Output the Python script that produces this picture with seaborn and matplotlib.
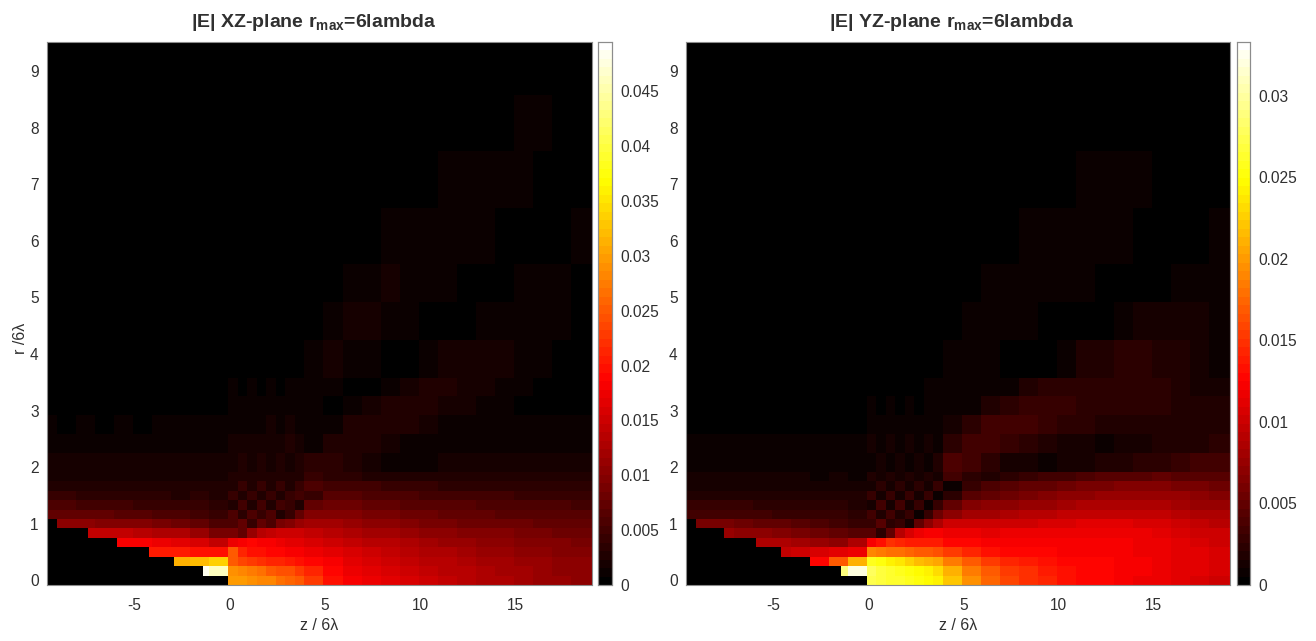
import numpy as np
import pandas as pd
import matplotlib
matplotlib.use("Agg")
import matplotlib.pyplot as plt
from matplotlib.colors import LinearSegmentedColormap
import seaborn as sns

sns.set_theme(style="white")
plt.rcParams['font.family'] = ['Liberation Sans', 'DejaVu Sans']
plt.rcParams['mathtext.fontset'] = 'custom'
plt.rcParams['mathtext.bf'] = 'Liberation Sans:bold'
plt.rcParams['mathtext.rm'] = 'Liberation Sans'

W, H = 1316, 641
TEXT = '#303030'
EDGE = '#8c8c8c'
hot_map = LinearSegmentedColormap.from_list(
    'hot_black', [(0, '#000000'), (0.375, '#ff0000'), (0.75, '#ffff00'), (1, '#ffffff')], N=64)

# block widths on the underlying grid (6 cells per lambda unit)
col_blocks = [3] + [6] * 9 + [3] * 8 + [6] * 14 + [7]
row_blocks = [1] * 12 + [2] * 5 + [4] * 3 + [6] * 4

x_ticks = [-5, 0, 5, 10, 15]
y_ticks = list(range(10))
xz_cbar_ticks = [0, 0.005, 0.01, 0.015, 0.02, 0.025, 0.03, 0.035, 0.04, 0.045]
yz_cbar_ticks = [0, 0.005, 0.01, 0.015, 0.02, 0.025, 0.03]
xz_vmax = 0.0495
yz_vmax = 0.0333

# first lit z of the lowest rows (the staircase)
xz_stairs = [-0.08, -1.42, -2.89, -4.3, -5.98, -7.4, -9.08]
yz_stairs = [-0.08, -1.42, -3.1, -4.5, -5.98, -7.6, -9.03]

# |E| values in units of 1e-4, bottom row first
xz_values = [
 [0,0,0,0,0,0,0,0,0,0, 300,295,290,285,280,270,260,250, 225,195,180,172,165,155,148,142,135,130,125,120,115,110,105],
 [0,0,0,0,0,0,0,0,480,460, 290,280,275,265,255,245,240,230, 210,190,175,170,160,150,145,138,132,127,122,117,112,108,104],
 [0,0,0,0,0,0,0,310,320,340, 250,235,225,220,215,210,205,200, 190,180,165,160,152,145,138,132,126,122,118,113,109,105,101],
 [0,0,0,0,0,205,205,205,200,195, 250,215,200,195,190,190,185,185, 175,165,155,150,145,138,130,125,120,116,112,108,104,100,97],
 [0,0,0,0,185,180,175,170,160,140, 175,185,190,185,180,175,170,170, 160,150,142,138,132,125,120,115,112,108,104,100,97,94,91],
 [0,0,140,140,140,135,130,125,110,90, 90,75,110,135,145,150,150,150, 145,135,128,122,118,112,108,104,100,97,94,91,88,85,82],
 [105,105,105,100,100,95,90,85,70,60, 55,75,45,70,55,90,100,110, 120,118,113,108,102,97,92,88,85,82,80,78,76,73,70],
 [70,70,70,70,68,65,60,55,50,40, 60,35,60,40,55,30,45,75, 100,98,94,90,86,82,78,75,72,70,68,67,65,63,62],
 [60,55,50,50,50,45,45,40,40,35, 25,50,30,50,30,50,40,25, 75,80,78,75,72,69,66,64,62,60,59,58,57,55,54],
 [40,40,38,38,35,35,35,30,35,30, 45,25,45,25,45,30,45,50, 40,62,62,60,58,55,52,50,49,48,47,46,46,45,44],
 [30,30,28,28,28,28,30,28,25,28, 25,42,25,40,25,40,28,45, 55,50,52,50,46,43,40,38,37,36,36,36,36,35,35],
 [22,22,22,22,22,22,22,22,22,22, 30,25,30,25,30,25,30,28, 40,35,32,30,27,27,28,29,30,30,30,29,28,27,26],
 [16,16,16,16,16,16,16,16,16,16, 20,26,20,26,20,28,20,30, 35,32,25,18,15,15,15,16,17,18,19,19,19,18,18],
 [11,11,11,11,11,11,12,11,12,11, 20,16,22,16,22,16,24,18, 15,28,30,28,22,15,12,11,11,11,12,13,13,13,13],
 [8,7,8,7,8,7,9,8,9,8, 14,11,15,12,16,12,16,12, 12,14,25,30,30,26,18,13,10,9,9,9,9,9,9],
 [5,5,5,5,6,5,6,6,7,6, 10,8,11,9,12,9,12,10, 8,7,8,20,28,30,27,22,16,12,8,7,7,7,7],
 [4,4,4,4,4,4,5,5,6,5, 8,7,8,7,9,7,9,9, 12,8,6,7,10,18,24,25,22,18,13,8,6,6,6],
 [3,3,3,3,4,3,4,4,5,4, 6,5,6,5,7,5,7,7, 10,16,12,8,6,6,10,18,20,20,18,13,8,5,5],
 [2,2,2,2,3,2,3,3,3,3, 4,4,5,4,5,4,5,5, 6,12,18,18,12,9,6,5,6,10,14,15,12,8,5],
 [2,2,2,2,2,2,2,2,3,2, 3,3,3,3,4,3,4,4, 5,6,8,14,18,15,11,8,6,5,6,8,10,10,7],
 [1,1,1,1,2,1,2,2,2,2, 2,2,2,2,2,2,3,3, 3,4,5,6,8,12,14,14,11,8,7,6,6,7,8],
 [1,1,1,1,1,1,1,1,1,1, 2,2,2,2,2,2,2,2, 2,3,3,4,4,5,6,8,10,10,9,8,6,6,7],
 [1,1,1,1,1,1,1,1,1,1, 1,1,1,1,1,1,2,2, 2,2,2,3,3,3,4,4,5,6,7,8,8,7,6],
 [1,1,1,1,1,1,1,1,1,1, 1,1,1,1,1,1,1,1, 1,1,2,2,2,2,2,3,3,3,4,5,5,6,6],
]
yz_values = [
 [0,0,0,0,0,0,0,0,0,0, 275,270,265,262,258,252,248,240, 220,195,175,160,150,142,135,130,125,122,118,115,112,108,104],
 [0,0,0,0,0,0,0,0,290,320, 280,270,262,258,252,245,240,230, 210,185,170,155,147,140,134,130,126,123,120,116,113,110,106],
 [0,0,0,0,0,0,0,125,170,210, 255,250,242,235,225,215,210,205, 185,170,155,145,140,135,130,127,125,122,120,117,114,110,106],
 [0,0,0,0,0,95,100,105,110,115, 190,185,180,178,172,170,168,165, 155,145,135,130,128,126,124,123,122,120,118,116,113,110,105],
 [0,0,0,0,85,85,80,75,70,85, 120,135,150,145,140,140,140,140, 130,125,122,122,122,122,122,122,121,120,118,115,112,108,103],
 [0,0,75,70,68,65,60,55,50,45, 45,25,50,90,105,115,120,120, 118,115,114,115,116,117,118,118,118,117,115,112,108,104,99],
 [60,60,58,55,52,48,45,40,35,30, 30,45,22,30,15,50,70,85, 100,100,100,102,104,106,108,110,110,110,108,105,102,98,93],
 [35,35,35,35,33,30,30,28,28,22, 35,18,35,18,30,8,30,55, 70,80,82,85,90,93,95,97,98,98,97,95,92,88,84],
 [28,28,27,27,26,25,25,22,22,20, 15,32,15,32,15,30,8,28, 50,65,68,70,74,78,82,84,86,87,86,84,82,78,75],
 [20,20,20,20,20,20,20,18,18,18, 30,12,30,12,30,15,30,8, 25,45,52,55,60,65,69,72,75,76,76,75,73,70,67],
 [15,15,15,15,15,15,14,14,15,15, 12,25,12,25,12,25,15,30, 8,30,38,42,47,52,56,60,62,64,64,63,62,60,57],
 [12,12,12,11,11,11,12,10,12,10, 18,12,18,12,18,12,20,15, 33,22,17,22,28,32,36,40,43,45,46,47,46,44,42],
 [8,8,8,8,8,8,8,8,9,8, 10,14,10,14,10,15,10,18, 40,32,22,14,11,10,12,15,18,20,23,26,28,32,33],
 [6,6,6,6,6,6,6,6,7,6, 11,8,12,8,12,8,14,10, 25,35,35,30,24,18,14,11,10,12,14,16,18,20,22],
 [4,4,4,4,5,4,5,5,5,5, 8,6,8,6,9,6,10,8, 12,25,32,33,32,30,26,22,18,18,20,20,20,20,20],
 [3,3,3,3,4,3,4,4,4,4, 6,5,6,5,7,5,7,6, 7,9,18,26,30,30,28,26,24,24,24,22,20,18,16],
 [3,3,3,3,3,3,3,3,3,3, 4,4,5,4,5,4,6,6, 8,8,6,8,16,22,26,26,26,25,24,22,18,15,12],
 [2,2,2,2,2,2,2,2,3,2, 3,3,4,3,4,3,4,4, 10,10,8,5,4,5,10,16,20,22,22,20,16,12,8],
 [1,1,1,1,1,1,2,2,2,2, 2,2,3,2,3,2,3,3, 5,8,10,10,7,5,3,3,4,7,12,15,15,12,8],
 [1,1,1,1,1,1,1,1,1,1, 2,2,2,2,2,2,2,2, 4,4,6,8,10,10,8,6,4,3,3,4,7,10,10],
 [1,1,1,1,1,1,1,1,1,1, 1,1,1,1,2,1,2,2, 2,3,3,4,6,8,9,9,8,6,4,3,3,4,6],
 [1,1,1,1,1,1,1,1,1,1, 1,1,1,1,1,1,1,1, 2,2,2,2,3,4,5,6,6,7,6,5,4,3,3],
 [0,0,0,0,0,0,0,0,1,1, 1,1,1,1,1,1,1,1, 1,1,2,2,2,2,3,3,4,4,5,5,5,4,3],
 [0,0,0,0,0,0,0,0,0,0, 1,1,1,1,1,1,1,1, 1,1,1,1,1,1,2,2,2,2,3,3,3,4,4],
]


def expand(values, stairs):
    arr = np.asarray(values, dtype=float) * 1e-4
    arr = np.repeat(np.repeat(arr, row_blocks, axis=0), col_blocks, axis=1)
    centres = -9.5 + np.arange(arr.shape[1]) / 6
    for row, start in enumerate(stairs):
        arr[row, centres < start] = 0
    return pd.DataFrame(arr)


def to_col(z):
    return np.asarray(z, dtype=float) * 6 + 57.5


def to_row(r):
    return np.asarray(r, dtype=float) * 6 + 0.5


def rect(x0, x1):
    return [x0 / W, 1 - 585 / H, (x1 - x0) / W, 543 / H]


def panel(values, stairs, vmax, cticks, title, title_x, ax_px, cb_px, ylabel):
    ax = fig.add_axes(rect(*ax_px))
    cax = fig.add_axes(rect(*cb_px))
    sns.heatmap(expand(values, stairs), ax=ax, cbar_ax=cax, cmap=hot_map, vmin=0, vmax=vmax,
                xticklabels=False, yticklabels=False, rasterized=True)
    ax.set_xlim(0, 171.5)
    ax.set_ylim(0, 57.6)
    ax.set_xticks(to_col(x_ticks))
    ax.set_xticklabels([str(v) for v in x_ticks])
    ax.set_yticks(to_row(y_ticks))
    ax.set_yticklabels([str(v) for v in y_ticks])
    ax.tick_params(axis='both', direction='in', length=3, width=0.6, color='#3a3a3a',
                   labelsize=11.2, labelcolor=TEXT, bottom=True, left=True)
    ax.tick_params(axis='x', pad=9)
    ax.tick_params(axis='y', pad=6)
    ax.set_xlabel('z / 6\u03bb', fontsize=11.5, color=TEXT, labelpad=4)
    if ylabel:
        ax.set_ylabel('r /6\u03bb', fontsize=11.5, color=TEXT)
        ax.yaxis.set_label_coords(-0.034, (585 - 338) / 543)
    ax.set_title(title, x=title_x, fontsize=14, fontweight='bold', color=TEXT, pad=11)
    for s in ax.spines.values():
        s.set_visible(True)
        s.set_color(EDGE)
        s.set_linewidth(0.8)
    cax.set_yticks(cticks)
    cax.set_yticklabels([f'{v:g}' for v in cticks])
    cax.tick_params(axis='y', direction='in', length=2.5, width=0.6, color='#555555', right=True,
                    labelsize=11.2, labelcolor=TEXT, pad=6)
    for s in cax.spines.values():
        s.set_visible(True)
        s.set_color(EDGE)
        s.set_linewidth(0.8)


fig = plt.figure(figsize=(W / 100, H / 100), dpi=100)
panel(xz_values, xz_stairs, xz_vmax, xz_cbar_ticks, r'|E| XZ-plane r$_{\mathbf{max}}$=6lambda',
      0.489, (47, 592), (598, 612), True)
panel(yz_values, yz_stairs, yz_vmax, yz_cbar_ticks, r'|E| YZ-plane r$_{\mathbf{max}}$=6lambda',
      0.489, (686, 1230), (1237, 1250), False)
fig.savefig('out.png', dpi=100)
